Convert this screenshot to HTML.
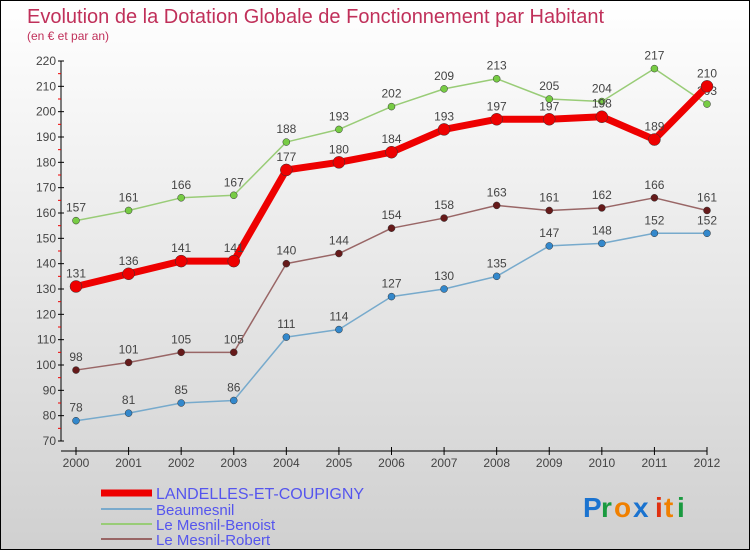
<!DOCTYPE html>
<html><head><meta charset="utf-8"><style>
body{margin:0}
#c{position:relative;width:748px;height:548px;border:1px solid #000;background:linear-gradient(#ffffff,#d0d0d0);overflow:hidden;font-family:"Liberation Sans",sans-serif}
</style></head><body>
<div id="c">
<svg id="s" width="748" height="548" style="position:absolute;left:0;top:0">
<text x="26" y="22" font-size="20" fill="#c0305a">Evolution de la Dotation Globale de Fonctionnement par Habitant</text>
<text x="26" y="39" font-size="12" fill="#c0305a">(en € et par an)</text>
<g id="axes"></g><g id="series"></g>
<g>
<line x1="100" y1="492" x2="151" y2="492" stroke="#ee0000" stroke-width="7"/>
<text x="155" y="498" font-size="16" fill="#5555ee">LANDELLES-ET-COUPIGNY</text>
<line x1="100" y1="508" x2="151" y2="508" stroke="#7aaacc" stroke-width="2"/>
<text x="155" y="514" font-size="15" fill="#5555ee">Beaumesnil</text>
<line x1="100" y1="523" x2="151" y2="523" stroke="#99cc77" stroke-width="2"/>
<text x="155" y="529" font-size="15" fill="#5555ee">Le Mesnil-Benoist</text>
<line x1="100" y1="538" x2="151" y2="538" stroke="#996666" stroke-width="2"/>
<text x="155" y="544" font-size="15" fill="#5555ee">Le Mesnil-Robert</text>
</g>
<g font-size="28" font-weight="bold">
<text x="582" y="516" fill="#1a73d0">P</text><text x="600" y="516" fill="#1a9a40">r</text><text x="613" y="516" fill="#f08000">o</text><text x="632" y="516" fill="#1a73d0">x</text><text x="654" y="516" fill="#e03010">i</text><text x="663" y="516" fill="#f08000">t</text><text x="676" y="516" fill="#1a9a40">i</text>
</g>
</svg>
</div>
<script>
const years=["2000","2001","2002","2003","2004","2005","2006","2007","2008","2009","2010","2011","2012"];
const yTicks=[70,80,90,100,110,120,130,140,150,160,170,180,190,200,210,220];
const landelles=[131,136,141,141,177,180,184,193,197,197,198,189,210];
const beaumesnil=[78,81,85,86,111,114,127,130,135,147,148,152,152];
const benoist=[157,161,166,167,188,193,202,209,213,205,204,217,203];
const robert=[98,101,105,105,140,144,154,158,163,161,162,166,161];
const NS="http://www.w3.org/2000/svg";
function X(i){return 75+i*(706-75)/(years.length-1);}
function Y(v){return 440-(v-70)*380/150;}
function mk(t,a,p){const e=document.createElementNS(NS,t);for(const k in a)e.setAttribute(k,a[k]);p.appendChild(e);return e;}
const ax=document.getElementById('axes');
let yl=mk('line',{x1:60,y1:Y(220),x2:60,y2:440,stroke:'#000'},ax);


let xl=mk('line',{x1:60,y1:450,x2:706,y2:450,stroke:'#000'},ax);


yTicks.forEach(v=>{mk('line',{x1:57,y1:Y(v),x2:63,y2:Y(v),stroke:'#000'},ax);
 if(v<220)mk('line',{x1:57,y1:Y(v+5),x2:60,y2:Y(v+5),stroke:'#e00'},ax);
 const t=mk('text',{x:55,y:Y(v)+4,'text-anchor':'end','font-size':12,fill:'#444'},ax);t.textContent=v;
 
 });
years.forEach((y,i)=>{mk('line',{x1:X(i),y1:446,x2:X(i),y2:454,stroke:'#000'},ax);
 const t=mk('text',{x:X(i),y:466,'text-anchor':'middle','font-size':12,fill:'#444'},ax);t.textContent=y;
 
 });
const sg=document.getElementById('series');
function draw(name,data,stroke,w,fill,r){
 const g=mk('g',{},sg);
 
 
 mk('polyline',{points:data.map((v,i)=>X(i)+','+Y(v)).join(' '),fill:'none',stroke:stroke,'stroke-width':w,'stroke-linejoin':'round'},g);
 data.forEach((v,i)=>{const c=mk('circle',{cx:X(i),cy:Y(v),r:r,fill:fill,stroke:'#333','stroke-width':0.5},g);
  
  
  const t=mk('text',{x:X(i),y:Y(v)-9,'text-anchor':'middle','font-size':12,fill:'#444'},g);t.textContent=v;});
}
draw('series-beaumesnil',beaumesnil,'#77aacc',1.5,'#3388cc',3.5);
draw('series-robert',robert,'#996666',1.5,'#661a1a',3.5);
draw('series-benoist',benoist,'#99cc77',1.5,'#77cc44',3.5);
draw('series-landelles',landelles,'#ee0000',7,'#ee0000',6);
</script>
</body></html>
